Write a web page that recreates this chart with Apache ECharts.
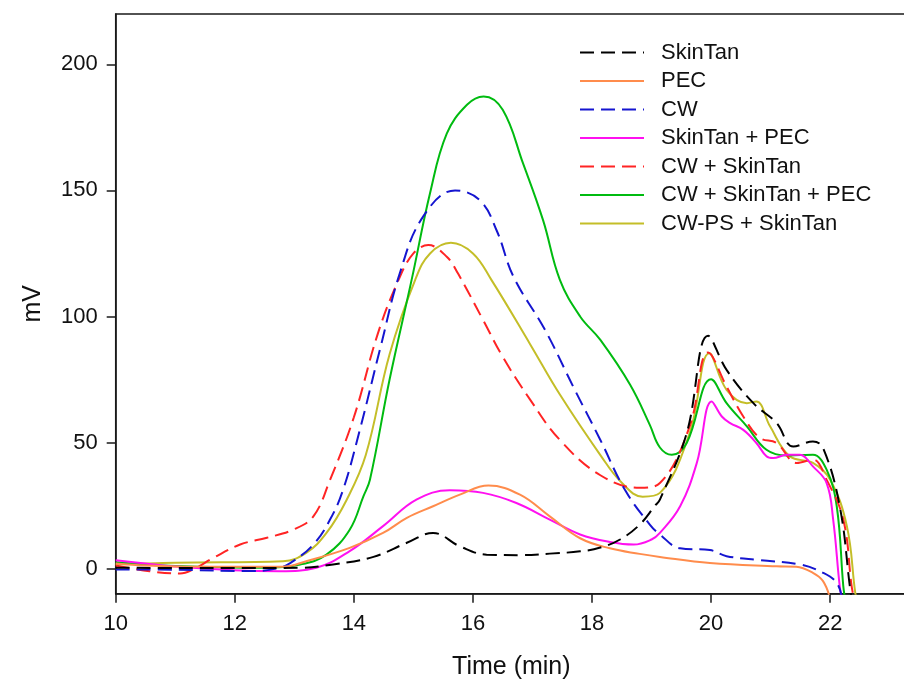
<!DOCTYPE html>
<html><head><meta charset="utf-8">
<script src="https://cdn.jsdelivr.net/npm/echarts@6/dist/echarts.min.js"></script>
<style>html,body{margin:0;padding:0;background:#fff}#c{width:904px;height:688px}</style>
</head><body><div id="c"></div><script>
// ---- data ----
const xTicks = [10, 12, 14, 16, 18, 20, 22];
const yTicks = [0, 50, 100, 150, 200];
const seriesNames = ['SkinTan', 'PEC', 'CW', 'SkinTan + PEC', 'CW + SkinTan', 'CW + SkinTan + PEC', 'CW-PS + SkinTan'];

const skinTanT = [10, 11, 12, 13.1, 13.65, 14.33, 14.89, 15.33, 15.78, 16.23, 16.8, 17.29, 17.8, 18.14, 18.47, 18.8, 19.06, 19.14, 19.59, 19.95, 20.26, 20.71, 21.1, 21.38, 21.71, 21.88, 22.16, 22.33, 22.36];
const skinTanV = [0.3, 0.2, 0.2, 0.3, 1.6, 4.6, 10.2, 14.1, 8.8, 5.5, 5.3, 5.9, 6.8, 8.3, 11.5, 17.4, 25, 27.3, 53.7, 92.3, 78.8, 65.6, 57.7, 48.4, 50.4, 47.8, 24.7, -7, -12];

const pecT = [10, 10.5, 11.42, 12.8, 13.2, 13.93, 14.49, 14.89, 15.33, 15.78, 16.26, 16.79, 17.29, 17.8, 18.3, 18.8, 19.14, 19.98, 21.1, 21.43, 21.71, 21.88, 22.0];
const pecV = [2, 1.2, 0.7, 0.7, 2.9, 8.2, 14.1, 20.1, 24.7, 29.3, 32.9, 29.3, 20.7, 12, 8, 5.8, 4.6, 2.2, 0.9, 0.7, -1.7, -5, -12];

const cwT = [10, 11, 12.3, 12.76, 12.98, 13.32, 13.6, 13.82, 14.1, 14.45, 14.77, 15.16, 15.7, 16.12, 16.4, 16.68, 17.21, 17.71, 18.14, 18.55, 18.97, 19.14, 19.48, 19.98, 20.26, 20.82, 21.49, 21.88, 22.11, 22.2];
const cwV = [-0.4, -0.5, -1, 0.3, 2.9, 9.5, 19.4, 31.3, 55, 88, 117, 139.5, 150, 146, 134, 115.8, 94.7, 70.9, 51, 31.3, 17.4, 13.5, 8, 7.3, 4.9, 3.3, 1.6, -1.7, -5.7, -12];

const stPecT = [10, 10.5, 11, 11.98, 12.76, 13.37, 13.93, 14.49, 15.05, 15.61, 16.17, 16.73, 17.29, 17.8, 18.3, 18.7, 19.0, 19.14, 19.48, 19.76, 20.01, 20.18, 20.32, 20.54, 20.76, 20.93, 21.04, 21.27, 21.49, 21.71, 21.94, 22.05, 22.16, 22.2];
const stPecV = [3.3, 2, 0.8, -0.7, -1.1, 0.3, 6.9, 16.8, 27.3, 31, 30, 26, 19.4, 13.5, 10.5, 9.5, 11.5, 14.1, 24.7, 41.9, 66.3, 60.3, 57.7, 55, 49.8, 44.5, 43.8, 45.1, 45.1, 40.5, 33.9, 19.4, -7, -12];

const cwStT = [10, 10.57, 11.08, 11.3, 11.64, 12.09, 12.54, 12.98, 13.32, 13.6, 14.0, 14.4, 14.75, 15.0, 15.25, 15.56, 15.75, 16.17, 16.5, 16.96, 17.46, 18.14, 18.8, 19.14, 19.64, 19.95, 20.26, 20.54, 20.82, 21.1, 21.44, 21.71, 21.94, 22.22, 22.36, 22.4];
const cwStV = [1.2, -1.1, -2, -0.4, 4.2, 9.5, 12.2, 15.4, 20.7, 35.2, 60, 93, 114.5, 125, 128.3, 123.7, 117, 98.6, 84, 67, 51, 37, 32, 33.9, 56.4, 85.7, 72.2, 60.3, 51.8, 49.8, 41.9, 43.2, 35.2, 19.4, -7, -12];

const cwStPecT = [10, 11, 12.5, 13.1, 13.54, 13.93, 14.16, 14.27, 14.6, 14.97, 15.28, 15.56, 15.9, 16.18, 16.5, 16.84, 17.18, 17.46, 17.8, 18.14, 18.64, 18.97, 19.14, 19.34, 19.59, 20.0, 20.26, 20.6, 20.93, 21.27, 21.5, 21.71, 21.94, 22.11, 22.22, 22.25];
const cwStPecV = [2.5, 1, 0.3, 1.6, 5.5, 15.4, 28.6, 35.2, 75, 114.5, 149, 172.5, 184, 187.3, 182, 160.8, 138, 114.5, 100, 90.7, 72.9, 57, 48, 45.1, 49.8, 75.1, 65.6, 56.4, 47.1, 44.8, 45, 45.1, 39.2, 24.7, -7, -12];

const cwPsStT = [10, 11, 12.81, 13.2, 13.54, 13.88, 14.2, 14.6, 15.03, 15.28, 15.63, 16.0, 16.31, 16.96, 17.46, 18.14, 18.5, 18.85, 19.14, 19.64, 19.97, 20.26, 20.6, 20.76, 20.99, 21.32, 21.71, 22.0, 22.28, 22.42, 22.45];
const cwPsStV = [1.6, 2.3, 2.9, 6.2, 14.1, 27.3, 45, 85, 114.5, 125, 129.2, 125, 114.5, 89, 69, 45, 34, 28.5, 30, 53.7, 85.4, 70.9, 65.6, 66.3, 56.4, 44.5, 41.9, 35.2, 16.8, -9.5, -12];

// ---- styles ----
const FONT = '"Liberation Sans", Arial, sans-serif';
const zip = (t, v) => t.map((x, i) => [x, v[i]]);
const seriesDefs = [
  { t: skinTanT, v: skinTanV, color: '#000000', dash: true },
  { t: pecT, v: pecV, color: '#ff8c4c', dash: false },
  { t: cwT, v: cwV, color: '#1515d0', dash: true },
  { t: stPecT, v: stPecV, color: '#ff10f0', dash: false },
  { t: cwStT, v: cwStV, color: '#ff2424', dash: true },
  { t: cwStPecT, v: cwStPecV, color: '#00bb10', dash: false },
  { t: cwPsStT, v: cwPsStV, color: '#c4be28', dash: false }
];

const chart = echarts.init(document.getElementById('c'), null, { renderer: 'canvas' });
chart.setOption({
  animation: false,
  backgroundColor: '#fff',
  textStyle: { fontFamily: FONT },
  grid: {
    left: 115.7, right: -3, top: 14, bottom: 94.3,
    show: true, borderColor: '#1a1a1a', borderWidth: 1.5,
    outerBoundsMode: 'none', containLabel: false
  },
  legend: {
    orient: 'vertical', left: 579, top: 41.5, padding: 0,
    itemWidth: 64, itemHeight: 14, itemGap: 6.5,
    itemStyle: { opacity: 0 },
    textStyle: { fontSize: 22, color: '#111', fontFamily: FONT, lineHeight: 22, padding: [0, 0, 0, 12] },
    data: seriesNames
  },
  xAxis: {
    type: 'value', min: 10, max: 23.29,
    name: 'Time (min)', nameLocation: 'middle', nameGap: 61,
    nameTextStyle: { fontSize: 25, color: '#111', fontFamily: FONT },
    axisLine: { onZero: false, lineStyle: { color: '#1a1a1a', width: 1.5 } },
    axisTick: { inside: false, length: 9, lineStyle: { color: '#1a1a1a', width: 1.5 }, customValues: xTicks },
    axisLabel: { fontSize: 22, color: '#111', margin: 19, customValues: xTicks, fontFamily: FONT },
    splitLine: { show: false }
  },
  yAxis: {
    type: 'value', min: -10, max: 220,
    name: 'mV', nameLocation: 'middle', nameGap: 70,
    nameTextStyle: { fontSize: 25, color: '#111', fontFamily: FONT },
    axisLine: { onZero: false, lineStyle: { color: '#1a1a1a', width: 1.5 } },
    axisTick: { inside: false, length: 9, lineStyle: { color: '#1a1a1a', width: 1.5 }, customValues: yTicks },
    axisLabel: { fontSize: 22, color: '#111', margin: 18, customValues: yTicks, fontFamily: FONT },
    splitLine: { show: false }
  },
  series: seriesDefs.map((s, i) => ({
    name: seriesNames[i],
    type: 'line',
    data: zip(s.t, s.v),
    symbol: 'none',
    smooth: 0.4,
    clip: true,
    color: s.color,
    lineStyle: { color: s.color, width: 2, type: s.dash ? [14, 7] : 'solid' },
    z: 10 - i
  }))
});
</script></body></html>
